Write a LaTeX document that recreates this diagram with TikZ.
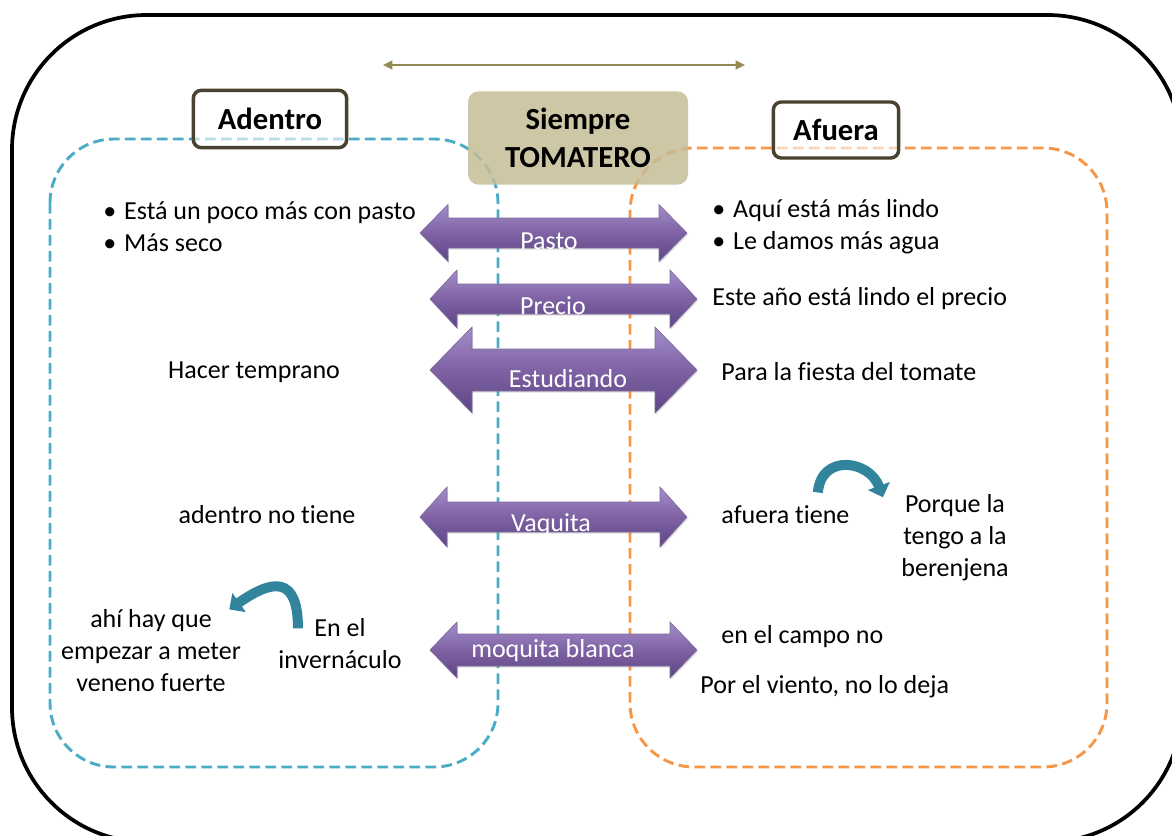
\documentclass[tikz,border=0pt]{standalone}
\usepackage{fontspec}
\setmainfont{Carlito}[Ligatures=NoCommon]
\usetikzlibrary{calc,arrows.meta,shadows}
\definecolor{azul}{HTML}{4BACC6}
\definecolor{naranja}{HTML}{F79646}
\definecolor{marron}{HTML}{4A4230}
\definecolor{caqui}{HTML}{C4BD97}
\definecolor{oliva}{HTML}{948A54}
\definecolor{lilaC}{HTML}{A48ECB}
\definecolor{lilaM}{HTML}{7E62A3}
\definecolor{lilaO}{HTML}{5E4585}
\definecolor{petroleo}{HTML}{31849B}

\begin{document}
\begin{tikzpicture}[x=0.75pt,y=-0.75pt,line width=2.2pt,
  texto/.style={inner sep=0pt,font=\fontsize{19.5}{24}\selectfont},
  titulo/.style={draw=marron,line width=2.6pt,rounded corners=6pt,fill=white,fill opacity=0.6,text opacity=1,font=\fontsize{23}{27}\selectfont\bfseries},
  borde/.style={dash pattern=on 8pt off 4pt,rounded corners=48pt},
  flecha/.style={top color=lilaC,bottom color=lilaO,middle color=lilaM,draw=lilaO!80,line width=0.5pt,
    drop shadow={opacity=0.25,shadow xshift=0.8pt,shadow yshift=-1.2pt}},
  rotulo/.style={inner sep=0pt,text=white,font=\fontsize{19.5}{24}\selectfont},
  curva/.style={petroleo,line width=7.5pt,-{Triangle[width=17pt,length=9pt]}}]
  \useasboundingbox (0,0) rectangle (1172,836);
  \clip (0,0) rectangle (1172,836);
  % marco exterior
  \draw[line width=2.8pt,rounded corners=101pt] (12,15) rectangle (1182,842);
  % zonas adentro / afuera
  \draw[azul,borde] (50,139) rectangle (498,767);
  \draw[naranja,borde] (630,148) rectangle (1107,767);
  % flecha de arriba
  \coordinate (arrI) at (383,65);
  \coordinate (arrD) at (745,65);
  \draw[oliva,line width=1.6pt,{Triangle[length=7pt,width=6.5pt]}-{Triangle[length=7pt,width=6.5pt]}] (arrI) -- (arrD);
  % titulos
  \node[titulo,minimum width=115pt,minimum height=43pt] (adentro) at (270,119) {Adentro};
  \node[titulo,minimum width=94pt,minimum height=42pt] (afuera) at (836,130) {Afuera};
  \node[fill=caqui,fill opacity=0.85,text opacity=1,rounded corners=8pt,minimum width=165pt,minimum height=70pt,align=center,
    font=\fontsize{23}{29}\selectfont\bfseries] (siempre) at (578,138) {Siempre\\TOMATERO};
  % flechas dobles
  \foreach \nm/\xl/\xr/\yc/\sw/\hw/\hl/\lx/\ly/\lab in {
    pasto/420/687/233/15/28.5/28/549/241/Pasto,
    precio/430/697/299/15/29/27/553/306/Precio,
    estud/430/697/370/21/43/42/568/379/Estudiando,
    vaca/420/687/517/15/30/27/551/525/Vaquita,
    moq/430/697/650/16/28/27/553/651/moquita blanca}{
    \path[flecha] (\xl,\yc) -- (\xl+\hl,\yc-\hw) -- (\xl+\hl,\yc-\sw) -- (\xr-\hl,\yc-\sw) -- (\xr-\hl,\yc-\hw)
      -- (\xr,\yc) -- (\xr-\hl,\yc+\hw) -- (\xr-\hl,\yc+\sw) -- (\xl+\hl,\yc+\sw) -- (\xl+\hl,\yc+\hw) -- cycle;
    \node[rotulo] (\nm) at (\lx,\ly) {\lab};
  }
  % textos de adentro
  \node[texto,anchor=west,align=left] (pastoI) at (102,227) {•\hspace{0.3em}Está un poco más con pasto\\•\hspace{0.3em}Más seco};
  \node[texto] (temprano) at (254,372) {Hacer temprano};
  \node[texto] (notiene) at (267,515) {adentro no tiene};
  \node[texto,align=center] (ahi) at (151,651) {ahí hay que\\empezar a meter\\veneno fuerte};
  \node[texto,align=center] (inv) at (340,644) {En el\\invernáculo};
  % textos de afuera
  \node[texto,anchor=west,align=left] (pastoD) at (711,227) {•\hspace{0.3em}Aquí está más lindo\\•\hspace{0.3em}Le damos más agua};
  \node[texto,anchor=west] (lindo) at (711,299) {Este año está lindo el precio};
  \node[texto,anchor=west] (fiesta) at (720,372) {Para la fiesta del tomate};
  \node[texto,anchor=west] (tiene) at (720,515) {afuera tiene};
  \node[texto,align=center] (porque) at (955,538) {Porque la\\tengo a la\\berenjena};
  \node[texto,anchor=west] (campo) at (720,637) {en el campo no};
  \node[texto,anchor=west] (viento) at (699,687) {Por el viento, no lo deja};
  % flechas curvas
  \draw[curva] ($(inv.north west)+(21,11)$) to[out=90,in=35,looseness=1.9] ($(ahi.north east)+(-13,1)$);
  \draw[curva] ($(tiene.north east)+(-33,-12)$) to[out=85,in=110,looseness=1.55] ($(porque.north west)+(-17,4)$);
\end{tikzpicture}
\end{document}
